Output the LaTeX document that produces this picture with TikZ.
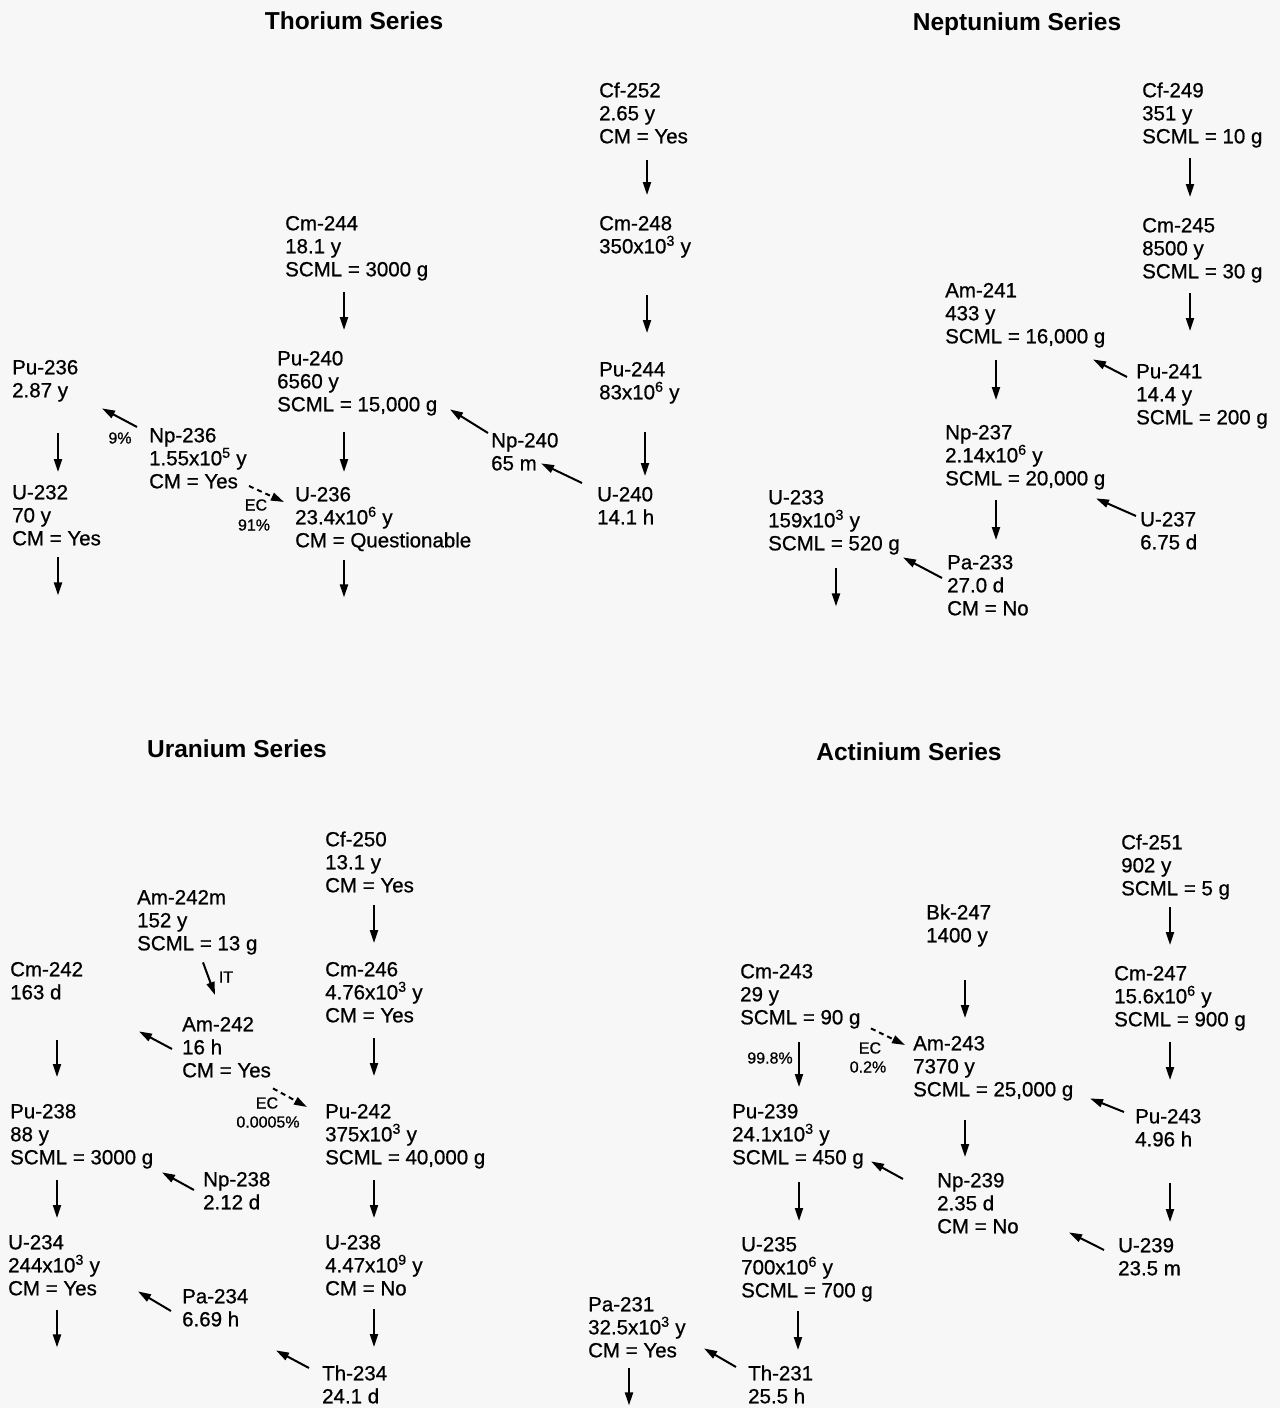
\documentclass[tikz,border=0pt]{standalone}
\usepackage{fontspec}
\setmainfont{Liberation Sans}
\newfontfamily\isofam{Liberation Sans}[FakeBold=0.7]
\usetikzlibrary{arrows.meta}
\definecolor{bg}{HTML}{F7F7F7}
\newcommand\isofont{\isofam\fontsize{20.5}{23}\selectfont}
\newcommand\labfont{\isofam\fontsize{16}{18}\selectfont}
\newcommand\ttlfont{\fontsize{24.5}{28}\selectfont\bfseries}
\newcommand\ex[1]{\smash{\textsuperscript{#1}}}
\begin{document}
\begin{tikzpicture}[x=1pt,y=-1pt,
 iso/.style={anchor=north west,inner sep=0pt,align=left,font=\isofont},
 lab/.style={inner sep=0pt,font=\labfont},
 ttl/.style={anchor=base,inner sep=0pt,font=\ttlfont},
 arr/.style={line width=2pt,-{Triangle[length=13pt,width=8pt]}},
 ecarr/.style={arr,dash pattern=on 5pt off 4pt}]
\path[use as bounding box,fill=bg] (0,0) rectangle (1280,1408);

% titles
\node[ttl] (tth) at (354,29) {Thorium Series};
\node[ttl] (tnp) at (1017,30) {Neptunium Series};
\node[ttl] (tur) at (237,757) {Uranium Series};
\node[ttl] (tac) at (909,760) {Actinium Series};

% ---------------- Thorium series
\node[iso] (cf252) at (599,81) {\strut Cf-252\\2.65 y\\CM = Yes\strut};
\node[iso] (cm248) at (599,214) {\strut Cm-248\\350x10\ex{3} y\strut};
\node[iso] (pu244) at (599,360) {\strut Pu-244\\83x10\ex{6} y\strut};
\node[iso] (u240) at (597,485) {\strut U-240\\14.1 h\strut};
\node[iso] (np240) at (491,431) {\strut Np-240\\65 m\strut};
\node[iso] (cm244) at (285,214) {\strut Cm-244\\18.1 y\\SCML = 3000 g\strut};
\node[iso] (pu240) at (277,349) {\strut Pu-240\\6560 y\\SCML = 15,000 g\strut};
\node[iso] (u236) at (295,485) {\strut U-236\\23.4x10\ex{6} y\\CM = Questionable\strut};
\node[iso] (pu236) at (12,358) {\strut Pu-236\\2.87 y\strut};
\node[iso] (np236) at (149,426) {\strut Np-236\\1.55x10\ex{5} y\\CM = Yes\strut};
\node[iso] (u232) at (12,483) {\strut U-232\\70 y\\CM = Yes\strut};

\draw[arr] ([shift={(48,10)}]cf252.south west) -- ([shift={(48,-19)}]cm248.north west);
\draw[arr] ([shift={(48,35)}]cm248.south west) -- ([shift={(48,-27)}]pu244.north west);
\draw[arr] ([shift={(46,26)}]pu244.south west) -- ([shift={(48,-9)}]u240.north west);
\draw[arr] ([shift={(-15,-2)}]u240.north west) -- ([shift={(50,-14)}]np240.south west);
\draw[arr] ([shift={(-3,2)}]np240.north west) -- ([shift={(173,-9)}]pu240.south west);
\draw[arr] ([shift={(59,9)}]cm244.south west) -- ([shift={(67,-19)}]pu240.north west);
\draw[arr] ([shift={(67,14)}]pu240.south west) -- ([shift={(49,-13)}]u236.north west);
\draw[arr] ([shift={(49,6)}]u236.south west) -- ([shift={(49,43)}]u236.south west);
\draw[arr] ([shift={(-12,1)}]np236.north west) -- ([shift={(90,4)}]pu236.south west);
\draw[ecarr] ([shift={(100,60)}]np236.north west) -- ([shift={(-11,17)}]u236.north west);
\draw[arr] ([shift={(46,29)}]pu236.south west) -- ([shift={(46,-11)}]u232.north west);
\draw[arr] ([shift={(46,5)}]u232.south west) -- ([shift={(46,43)}]u232.south west);
\node[lab] (l9) at (120,438) {9\%};
\node[lab] (lec1) at (256,505) {EC};
\node[lab] (l91) at (254,525) {91\%};

% ---------------- Neptunium series
\node[iso] (cf249) at (1142,81) {\strut Cf-249\\351 y\\SCML = 10 g\strut};
\node[iso] (cm245) at (1142,216) {\strut Cm-245\\8500 y\\SCML = 30 g\strut};
\node[iso] (pu241) at (1136,362) {\strut Pu-241\\14.4 y\\SCML = 200 g\strut};
\node[iso] (am241) at (945,281) {\strut Am-241\\433 y\\SCML = 16,000 g\strut};
\node[iso] (np237) at (945,423) {\strut Np-237\\2.14x10\ex{6} y\\SCML = 20,000 g\strut};
\node[iso] (u237) at (1140,510) {\strut U-237\\6.75 d\strut};
\node[iso] (pa233) at (947,553) {\strut Pa-233\\27.0 d\\CM = No\strut};
\node[iso] (u233) at (768,488) {\strut U-233\\159x10\ex{3} y\\SCML = 520 g\strut};

\draw[arr] ([shift={(48,8)}]cf249.south west) -- ([shift={(48,-19)}]cm245.north west);
\draw[arr] ([shift={(48,8)}]cm245.south west) -- ([shift={(54,-31)}]pu241.north west);
\draw[arr] ([shift={(-9,15)}]pu241.north west) -- ([shift={(148,9)}]am241.south west);
\draw[arr] ([shift={(51,10)}]am241.south west) -- ([shift={(51,-23)}]np237.north west);
\draw[arr] ([shift={(-4,6)}]u237.north west) -- ([shift={(151,6)}]np237.south west);
\draw[arr] ([shift={(51,8)}]np237.south west) -- ([shift={(49,-13)}]pa233.north west);
\draw[arr] ([shift={(-5,25)}]pa233.north west) -- ([shift={(135,0)}]u233.south west);
\draw[arr] ([shift={(68,11)}]u233.south west) -- ([shift={(68,49)}]u233.south west);

% ---------------- Uranium series
\node[iso] (cf250) at (325,830) {\strut Cf-250\\13.1 y\\CM = Yes\strut};
\node[iso] (cm246) at (325,960) {\strut Cm-246\\4.76x10\ex{3} y\\CM = Yes\strut};
\node[iso] (pu242) at (325,1102) {\strut Pu-242\\375x10\ex{3} y\\SCML = 40,000 g\strut};
\node[iso] (u238) at (325,1233) {\strut U-238\\4.47x10\ex{9} y\\CM = No\strut};
\node[iso] (th234) at (322,1364) {\strut Th-234\\24.1 d\strut};
\node[iso] (pa234) at (182,1287) {\strut Pa-234\\6.69 h\strut};
\node[iso] (u234) at (8,1233) {\strut U-234\\244x10\ex{3} y\\CM = Yes\strut};
\node[iso] (am242m) at (137,888) {\strut Am-242m\\152 y\\SCML = 13 g\strut};
\node[iso] (am242) at (182,1015) {\strut Am-242\\16 h\\CM = Yes\strut};
\node[iso] (cm242) at (10,960) {\strut Cm-242\\163 d\strut};
\node[iso] (pu238) at (10,1102) {\strut Pu-238\\88 y\\SCML = 3000 g\strut};
\node[iso] (np238) at (203,1170) {\strut Np-238\\2.12 d\strut};

\draw[arr] ([shift={(49,6)}]cf250.south west) -- ([shift={(49,-17)}]cm246.north west);
\draw[arr] ([shift={(49,9)}]cm246.south west) -- ([shift={(49,-26)}]pu242.north west);
\draw[arr] ([shift={(49,9)}]pu242.south west) -- ([shift={(49,-15)}]u238.north west);
\draw[arr] ([shift={(49,7)}]u238.south west) -- ([shift={(52,-17)}]th234.north west);
\draw[arr] ([shift={(-13,4)}]th234.north west) -- ([shift={(94,17)}]pa234.south west);
\draw[arr] ([shift={(-11,24)}]pa234.north west) -- ([shift={(130,-11)}]u234.south west);
\draw[arr] ([shift={(49,8)}]u234.south west) -- ([shift={(49,45)}]u234.south west);
\draw[arr] ([shift={(66,5)}]am242m.south west) -- ([shift={(33,-20)}]am242.north west);
\draw[arr] ([shift={(-10,34)}]am242.north west) -- ([shift={(129,25)}]cm242.south west);
\draw[arr] ([shift={(47,34)}]cm242.south west) -- ([shift={(47,-25)}]pu238.north west);
\draw[arr] ([shift={(-9,20)}]np238.north west) -- ([shift={(152,1)}]pu238.south west);
\draw[arr] ([shift={(47,9)}]pu238.south west) -- ([shift={(49,-15)}]u234.north west);
\draw[ecarr] ([shift={(91,4)}]am242.south west) -- ([shift={(-18,5)}]pu242.north west);
\node[lab] (lit) at (226,977) {IT};
\node[lab] (lec2) at (267,1103) {EC};
\node[lab] (l5) at (268,1122) {0.0005\%};

% ---------------- Actinium series
\node[iso] (cf251) at (1121,833) {\strut Cf-251\\902 y\\SCML = 5 g\strut};
\node[iso] (cm247) at (1114,964) {\strut Cm-247\\15.6x10\ex{6} y\\SCML = 900 g\strut};
\node[iso] (pu243) at (1135,1107) {\strut Pu-243\\4.96 h\strut};
\node[iso] (am243) at (913,1034) {\strut Am-243\\7370 y\\SCML = 25,000 g\strut};
\node[iso] (bk247) at (926,903) {\strut Bk-247\\1400 y\strut};
\node[iso] (cm243) at (740,962) {\strut Cm-243\\29 y\\SCML = 90 g\strut};
\node[iso] (pu239) at (732,1102) {\strut Pu-239\\24.1x10\ex{3} y\\SCML = 450 g\strut};
\node[iso] (np239) at (937,1171) {\strut Np-239\\2.35 d\\CM = No\strut};
\node[iso] (u239) at (1118,1236) {\strut U-239\\23.5 m\strut};
\node[iso] (u235) at (741,1235) {\strut U-235\\700x10\ex{6} y\\SCML = 700 g\strut};
\node[iso] (th231) at (748,1364) {\strut Th-231\\25.5 h\strut};
\node[iso] (pa231) at (588,1295) {\strut Pa-231\\32.5x10\ex{3} y\\CM = Yes\strut};

\draw[arr] ([shift={(49,5)}]cf251.south west) -- ([shift={(56,-19)}]cm247.north west);
\draw[arr] ([shift={(56,9)}]cm247.south west) -- ([shift={(35,-27)}]pu243.north west);
\draw[arr] ([shift={(35,30)}]pu243.south west) -- ([shift={(52,-14)}]u239.north west);
\draw[arr] ([shift={(-11,5)}]pu243.north west) -- ([shift={(177,-5)}]am243.south west);
\draw[arr] ([shift={(39,31)}]bk247.south west) -- ([shift={(52,-16)}]am243.north west);
\draw[ecarr] ([shift={(131,-3)}]cm243.south west) -- ([shift={(-8,11)}]am243.north west);
\draw[arr] ([shift={(59,11)}]cm243.south west) -- ([shift={(67,-15)}]pu239.north west);
\draw[arr] ([shift={(52,17)}]am243.south west) -- ([shift={(28,-14)}]np239.north west);
\draw[arr] ([shift={(-34,8)}]np239.north west) -- ([shift={(139,-10)}]pu239.south west);
\draw[arr] ([shift={(-14,14)}]u239.north west) -- ([shift={(132,-8)}]np239.south west);
\draw[arr] ([shift={(67,11)}]pu239.south west) -- ([shift={(58,-14)}]u235.north west);
\draw[arr] ([shift={(57,7)}]u235.south west) -- ([shift={(50,-14)}]th231.north west);
\draw[arr] ([shift={(-12,3)}]th231.north west) -- ([shift={(116,-16)}]pa231.south west);
\draw[arr] ([shift={(41,4)}]pa231.south west) -- ([shift={(41,41)}]pa231.south west);
\node[lab] (l998) at (770,1058) {99.8\%};
\node[lab] (lec3) at (870,1048) {EC};
\node[lab] (l02) at (868,1067) {0.2\%};
\end{tikzpicture}
\end{document}
